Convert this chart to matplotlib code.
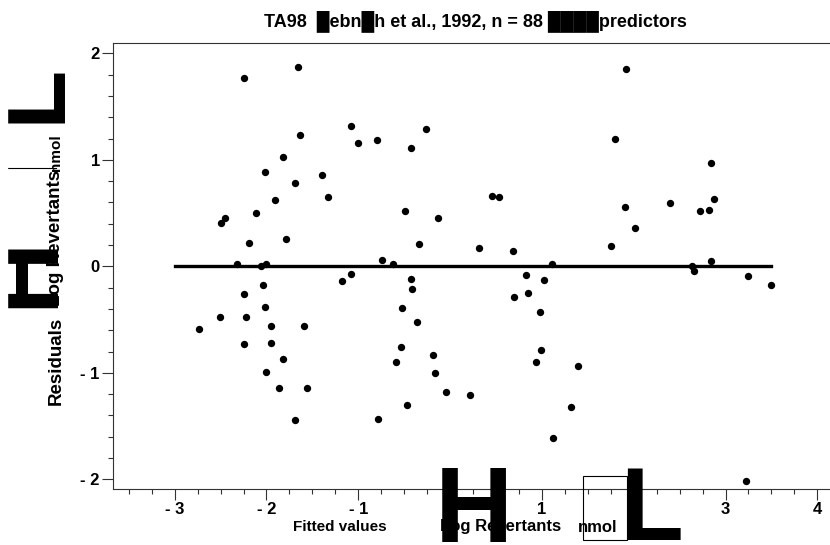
import matplotlib
matplotlib.use("Agg")
import matplotlib.pyplot as plt
from matplotlib.ticker import MultipleLocator, FixedLocator, FuncFormatter
from matplotlib.patches import Rectangle
from matplotlib.lines import Line2D

plt.rcParams['font.family'] = ['Liberation Sans', 'DejaVu Sans']
plt.rcParams['font.weight'] = 'bold'

# fitted values vs residuals
fitted = [
    -2.25, -1.66, -1.08, -1.00, -0.80, -0.26, -0.43, -1.63, -1.82, -2.02,
    -1.40, -1.69, -1.33, -1.91, -2.11, -2.50, -2.45, -0.49, -0.13, -2.19,
    -1.79, -0.34, -0.74, -0.62, -2.32, -2.06, -2.01,
    -1.18, -1.08, -0.43, -0.41, -2.04, -2.25, -2.02, -0.52, -2.51, -2.22,
    -0.36, -2.73, -1.95, -1.59, -2.25, -1.95, -0.54, -1.82, -0.59, -0.19,
    -2.01, -0.16, -1.86, -1.56, -0.05, -0.47, -1.69, -0.79,
    1.92, 1.80, 2.84, 0.46, 0.53, 1.90, 2.39, 2.72, 2.82, 2.87,
    2.01, 0.32, 0.68, 1.75, 1.11, 2.84, 2.64, 2.66, 0.83, 1.02, 3.25,
    3.49, 0.70, 0.85, 0.98, 0.99, 0.94, 1.39, 0.22, 1.32, 1.12, 3.22,
]
residuals = [
    1.77, 1.87, 1.32, 1.16, 1.19, 1.29, 1.11, 1.23, 1.03, 0.89,
    0.86, 0.78, 0.65, 0.62, 0.50, 0.41, 0.45, 0.52, 0.45, 0.22,
    0.26, 0.21, 0.06, 0.02, 0.02, 0.00, 0.02,
    -0.14, -0.07, -0.12, -0.21, -0.18, -0.26, -0.38, -0.39, -0.48, -0.48,
    -0.52, -0.59, -0.56, -0.56, -0.73, -0.72, -0.76, -0.87, -0.90, -0.83,
    -0.99, -1.00, -1.14, -1.14, -1.18, -1.30, -1.44, -1.43,
    1.85, 1.20, 0.97, 0.66, 0.65, 0.56, 0.59, 0.52, 0.53, 0.63,
    0.36, 0.17, 0.14, 0.19, 0.02, 0.05, 0.00, -0.04, -0.08, -0.13, -0.09,
    -0.18, -0.29, -0.25, -0.43, -0.79, -0.90, -0.94, -1.21, -1.32, -1.61, -2.02,
]
zero_line_x = [-3, 3.5]
x_ticks = [-3, -2, -1, 0, 1, 2, 3, 4]
y_ticks = [-2, -1, 0, 1, 2]

title = "TA98  \u2588ebn\u2588h et al., 1992, n = 88 \u2588\u2588\u2588\u2588predictors"

W, H = 830, 545
fig = plt.figure(figsize=(8.3, 5.45), dpi=100)


def px(x, y):
    # pixel position -> figure fraction
    return x / W, 1 - y / H


ax = fig.add_axes([113 / W, 1 - 489 / H, (W - 113) / W, (489 - 43) / H])

ax.scatter(fitted, residuals, s=28, color='black', linewidths=0, zorder=3)
ax.plot(zero_line_x, [0, 0], color='black', lw=2.4, zorder=2)

ax.set_xlim(-3.672, 4.138)
ax.set_ylim(-2.091, 2.097)

fmt = FuncFormatter(lambda v, p: f"- {abs(int(round(v)))}" if v < 0 else f"{int(round(v))}")
ax.xaxis.set_major_locator(FixedLocator(x_ticks))
ax.yaxis.set_major_locator(FixedLocator(y_ticks))
ax.xaxis.set_minor_locator(MultipleLocator(0.25))
ax.yaxis.set_minor_locator(MultipleLocator(0.2))
ax.xaxis.set_major_formatter(fmt)
ax.yaxis.set_major_formatter(fmt)

ax.tick_params(which='major', length=8, width=0.8, color='#333333', pad=1.5, labelsize=12)
ax.tick_params(which='minor', length=3.5, width=0.8, color='#333333')

for side in ['left', 'bottom', 'top']:
    ax.spines[side].set_color('#333333')
    ax.spines[side].set_linewidth(0.8)
ax.spines['right'].set_visible(False)

fig.text(*px(475, 21), title, fontsize=13, ha='center', va='center')

# axis labels (the bracket glyphs are drawn separately below)
fig.text(*px(293, 527), "Fitted values", fontsize=11, ha='left', va='center')
fig.text(*px(440, 527), "Log Revertants", fontsize=12, ha='left', va='center')
fig.text(*px(617, 527), "nmol", fontsize=12, ha='right', va='center')
fig.text(*px(56, 405), "Residuals", fontsize=13.5, ha='left', va='center',
         rotation=90, rotation_mode='anchor')
fig.text(*px(56, 306), "Log Revertants", fontsize=13.5, ha='left', va='center',
         rotation=90, rotation_mode='anchor')
fig.text(*px(56, 134), "nmol", fontsize=11, ha='right', va='center',
         rotation=90, rotation_mode='anchor')

# oversized bracket glyphs
fig.text(*px(474, 542), "H", fontsize=78, ha='center', va='baseline')
fig.text(*px(620, 540), "L", fontsize=74, ha='left', va='baseline')
fig.text(*px(59, 123), "L", fontsize=70, ha='left', va='baseline',
         rotation=90, rotation_mode='anchor')
fig.text(*px(52, 272), "H", fontsize=72, ha='center', va='baseline',
         rotation=90, rotation_mode='anchor')
fig.add_artist(Line2D([7 / W, 56 / W], [1 - 168 / H] * 2, transform=fig.transFigure,
                      color='black', lw=0.8))
fig.add_artist(Rectangle(px(583, 540), (627 - 583) / W, (540 - 476) / H, fill=False,
                         ec='black', lw=0.8, transform=fig.transFigure))
fig.add_artist(Rectangle((0, 0), 7 / W, 1, transform=fig.transFigure,
                         color='white', zorder=10))

fig.savefig("out.png", dpi=100)
